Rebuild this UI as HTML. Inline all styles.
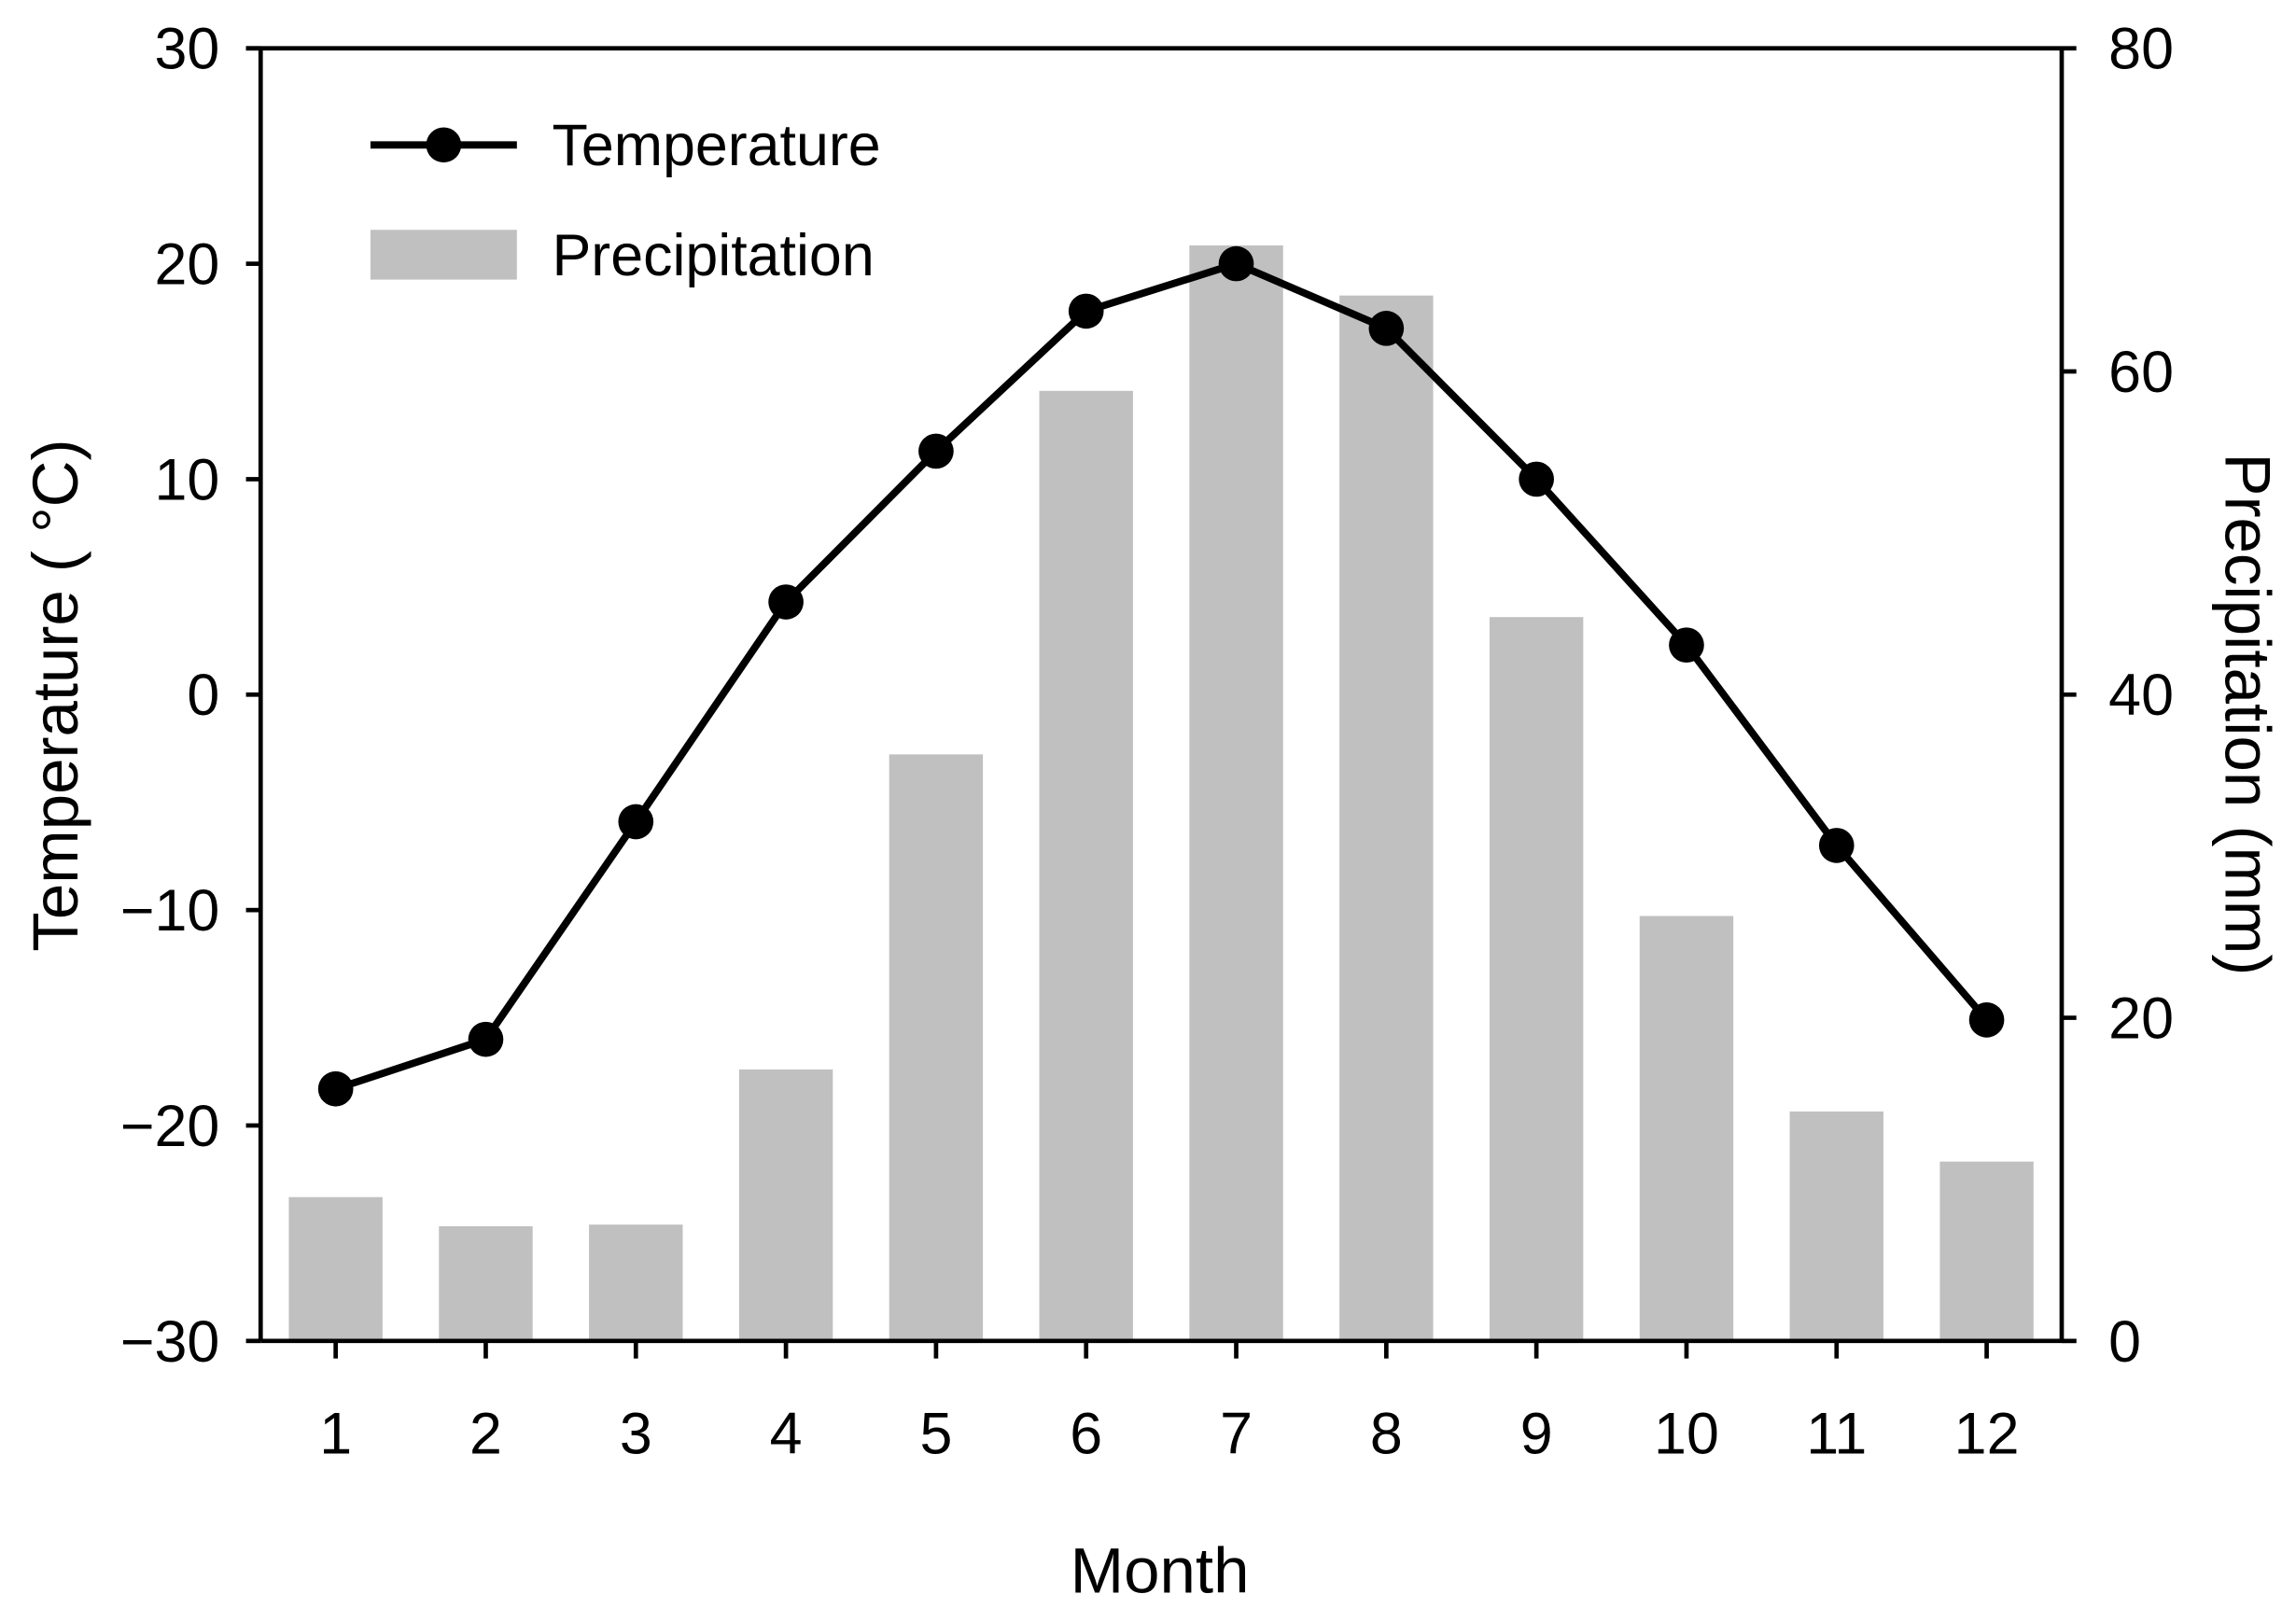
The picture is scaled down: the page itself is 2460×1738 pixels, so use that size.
<!DOCTYPE html>
<html><head><meta charset="utf-8"><style>
html,body{margin:0;padding:0;background:#fff;}
svg{display:block;font-family:"Liberation Sans",Arial,sans-serif;}
</style></head><body>
<svg id="chart" width="2460" height="1738" viewBox="0 0 1568 1108" preserveAspectRatio="none" xmlns="http://www.w3.org/2000/svg">
<g id="bars"></g>
<g id="axes"></g>
<g id="line"></g>
<g id="legend">
  <line x1="253" y1="99" x2="353" y2="99" stroke="#000" stroke-width="5"/>
  <circle cx="303" cy="99" r="12" fill="#000"/>
  <text x="377" y="113" font-size="40">Temperature</text>
  <rect x="253" y="157" width="100" height="34" fill="#c0c0c0"/>
  <text x="377" y="188" font-size="40">Precipitation</text>
</g>
<text x="53" y="475" font-size="44" text-anchor="middle" transform="rotate(-90 53 475)">Temperature ( °C)</text>
<text x="1520" y="488" font-size="44" text-anchor="middle" transform="rotate(90 1520 488)">Precipitation (mm)</text>
<text x="792" y="1088" font-size="44" text-anchor="middle">Month</text>
</svg>
<script>
const months = [1,2,3,4,5,6,7,8,9,10,11,12];
const temperature = [-18.3,-16.0,-5.9,4.3,11.3,17.8,20.0,17.0,10.0,2.3,-7.0,-15.1];
const precipitation = [8.9,7.1,7.2,16.8,36.3,58.8,67.8,64.7,44.8,26.3,14.2,11.1];
const tempTicks = [-30,-20,-10,0,10,20,30];
const precipTicks = [0,20,40,60,80];

const NS='http://www.w3.org/2000/svg';
const L=178,R=1408,T=33,B=916;
const xs=m=>L+(m-0.5)*(R-L)/12;
const yT=v=>B-(v+30)/60*(B-T);
const yP=v=>B-v/80*(B-T);
function mk(tag,attrs,parent){const e=document.createElementNS(NS,tag);for(const k in attrs)e.setAttribute(k,attrs[k]);parent.appendChild(e);return e;}
const bars=document.getElementById('bars'),axes=document.getElementById('axes'),line=document.getElementById('line');
const bw=64;
precipitation.forEach((p,i)=>{
  const r=mk('rect',{x:xs(months[i])-bw/2,y:yP(p),width:bw,height:B-yP(p),fill:'#c0c0c0'},bars);
  
  
});
let ax=mk('path',{d:`M${L} ${T}V${B}M${R} ${T}V${B}M168 ${T}H${R}M${L} ${B}H1418`,stroke:'#000','stroke-width':3,fill:'none'},axes);


tempTicks.forEach(v=>{
  const y=yT(v);
  const t=mk('line',{x1:168,x2:L,y1:y,y2:y,stroke:'#000','stroke-width':3},axes);
  
  
  const tx=mk('text',{x:150,y:y+14,'font-size':40,'text-anchor':'end'},axes);
  tx.textContent=v<0?'\u2212'+Math.abs(v):String(v);
  
  
});
precipTicks.forEach(v=>{
  const y=yP(v);
  const t=mk('line',{x1:R,x2:1418,y1:y,y2:y,stroke:'#000','stroke-width':3},axes);
  
  
  const tx=mk('text',{x:1440,y:y+14,'font-size':40},axes);
  tx.textContent=String(v);
  
  
});
months.forEach(m=>{
  const x=xs(m);
  const t=mk('line',{x1:x,x2:x,y1:B,y2:928,stroke:'#000','stroke-width':3},axes);
  
  
  const tx=mk('text',{x:x,y:993,'font-size':40,'text-anchor':'middle'},axes);
  tx.textContent=String(m);
  
  
});
const pl=mk('polyline',{points:temperature.map((v,i)=>xs(months[i])+','+yT(v)).join(' '),fill:'none',stroke:'#000','stroke-width':5},line);


temperature.forEach((v,i)=>{
  const c=mk('circle',{cx:xs(months[i]),cy:yT(v),r:12,fill:'#000'},line);
  
  
});
</script>
</body></html>
